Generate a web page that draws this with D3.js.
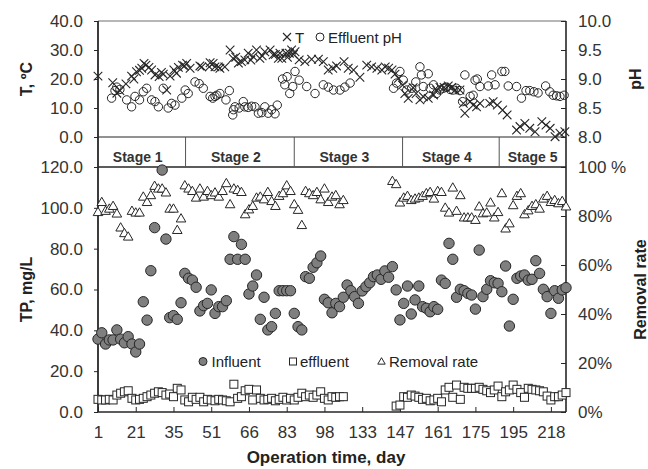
<!DOCTYPE html>
<html>
<head>
<meta charset="utf-8">
<script src="https://cdn.jsdelivr.net/npm/d3@7"></script>
<style>
  body { margin: 0; background: #fff; }
  svg { display: block; font-family: "Liberation Sans", Arial, sans-serif; }
</style>
</head>
<body>
<svg id="chart" width="648" height="469"></svg>
<script>
// ---- data (x = sample index on the category axis) ----
const dayLabels = ['1', '21', '35', '51', '66', '83', '98', '133', '147', '161', '175', '195', '218'];
const stageNames = ['Stage 1', 'Stage 2', 'Stage 3', 'Stage 4', 'Stage 5'];
const stageBreaks = [23.2, 52, 80.7, 106.3];

// TP influent, mg/L
const influent = [
  35.7, 38.8, 33.3, 35.3, 35.3, 40.2, 35.7, 33.9, 36.9, 33.3,
  29.4, 33.3, 54, 45, 69.2, 90.3, null, 118.5, 84.7, 46.2,
  47.2, 45.4, 53.5, 67.9, 65.5, 64.6, 61.1, 49.5, 52.1, 53.2,
  59.8, 48.3, 51.6, 51.6, 54.5, 74.8, 85.9, 74.8, 82.1, 74.8,
  57.8, 61.7, 67.1, 45.4, 56.2, 40.2, 41.8, 48.3, 59.4, 59.4,
  59.4, 59.4, 48.3, 41.8, 40.2, 66.3, 65.5, 70.9, 73.1, 76.4,
  55.2, 53.5, 48.6, 53.2, 51.6, 56.2, 62.2, 59.4, 56.5, 53.2,
  59.3, 61.4, 63.3, 66.3, 67.1, 65, 69.1, 66, 71.2, 59.8,
  45.1, 53.2, 61.7, 48, 54.9, 61.7, 51.6, 50.8, 49.1, 51.6,
  50.3, 64.6, 63, 82.6, 74.8, 56.2, 60.1, 59.4, 58.1, 57.3,
  50.4, 79.3, 56.5, 60.1, 64.3, 63.3, 63, 58.9, 71.5, 42.1,
  55.2, 65.5, 66.6, 67.1, 64.6, 65, 74.1, 67.9, 60.1, 56.5,
  48.3, 59.4, 55.7, 59.8, 60.9
];

// TP effluent, mg/L
const effluent = [
  6.2, 5.9, 5.9, 6.2, 5.9, 8.3, 9.2, 9.9, 10.4, 6.7,
  5.9, 6.2, 6.7, 7.5, 8.3, 9.2, 9.9, 9.5, 8.3, 8.8,
  7.5, 11.6, 10.8, 5.9, 5, 7.2, 6.2, 7.2, 5, 6.2,
  5.9, 5.5, 6.2, 5.9, 5.5, 5, 13.6, 6.7, 7.5, 10.4,
  11.1, 5.9, 10.8, 6.7, 5.9, 6.2, 6.7, 5.5, 6.2, 7.2,
  5.9, 6.7, 5.9, 7.2, 9.2, 7.5, 8.3, 7.2, 8.3, 9.9,
  6.7, 5.9, 7.5, 7.2, 7.5, 7.5,
  null, null, null, null, null, null, null, null, null, null, null, null, null,
  2.9, 3.4, 7.5, 7.2, 8.3, 7.8, 7.2, 6.2, 6.7, 5.5,
  5.9, 6.7, 5, 10.8, 12.1, 7.2, 13.2, 6.2, 12.1, 11.6,
  11.6, 11.6, 12.1, 11.1, 10.4, 9.5, 10.8, 12.7, 7.5, 9.9,
  10.8, 13.2, 11.1, 9.5, 7.2, 11.6, 11.1, 10.8, 10.4, 9.9,
  7.8, 5.9, 7.5, 7.5, 8.3, 9.5
];

// TP removal rate, %
const removal = [
  81.3, 85.4, 81.8, 82.7, 83.8, 80.7, 75, 72.7, 71.3, 81.8,
  81.1, 81.1, 87.6, 85.4, 88.2, 92, 90.9, 90.9, 89.3, 82.7,
  82.7, 74, 78.7, 92.2, 90.9, 89.9, 87.2, 90.9, 87.6, 89.9,
  88.2, 89.3, 87.6, 89.9, 93.1, 84.5, 90.9, 90.3, 89.5, 80.4,
  82.4, 83.8, 87.2, 87.6, 86.5, 89.5, 85.8, 83.8, 87.9, 89,
  92.2, 89.9, 84.5, 82.2, 76, 89.9, 89, 88.2, 89.5, 86.5,
  90.9, 85.4, 87.6, 88.2, 84.5, 86.2,
  null, null, null, null, null, null, null, null, null, null, null, null,
  94, 92.7, 85.2, 87.2, 87.9, 86.2, 86.8, 87.2,
  87.9, 89, 89.5, 86.8, 89.9, 89.5, 83.1, 81.1, 91.3, 81.8,
  88.2, 79.1, 79.1, 79.1, 78.1, 83.6, 80.8, 81.1, 85.2, 79.1,
  81.3, 89, 74.6, 76.7, 84.1, 87.9, 89, 80.4, 82, 83.8,
  84.5, 82.7, 86.8, 87.9, 85.4, 86.2, 84.9, 85.8, 83.6
];

// temperature, [position, degC]
const tempPoints = [
  [0, 21], [3.9, 18.7], [5, 15.1], [5.8, 16], [7.4, 18.3], [8.9, 21], [9.5, 20], [10.2, 22.5],
  [11, 23], [11.6, 23.7], [12.2, 25.4], [12.7, 24.8], [13.5, 24], [14.2, 23.1], [15.1, 21.4],
  [16.2, 20.8], [16.8, 22.3], [17.3, 21.7], [18.2, 16.2], [19.1, 21], [20.1, 23.1], [20.8, 22],
  [21.3, 24], [22.4, 24.8], [22.9, 24.5], [23.5, 25.4], [24.4, 23.7], [27, 24.5], [27.5, 24.2],
  [29.5, 24.2], [29.7, 25.6], [30.5, 25.4], [31, 24.2], [31.9, 24.2], [32.3, 23.7], [33.6, 24.2],
  [35, 30], [35.8, 27.1], [36.5, 27.5], [37.2, 25.5], [38, 26], [38.9, 26.6], [39.8, 28.9],
  [40.5, 26.5], [41.1, 27.7], [42, 30], [42.9, 27.1], [43.5, 28], [44.2, 29.4], [45.6, 30],
  [46.4, 28.3], [47, 28.5], [47.8, 27.1], [48.2, 28.9], [48.7, 27.1], [49.8, 28.9], [50.2, 27.5],
  [50.7, 28.9], [51.3, 30], [51.8, 28.5], [52.2, 29.4], [53.3, 26.6], [54.8, 26], [56.6, 26.8],
  [58.4, 26.8], [59.7, 26], [61, 23.1], [62.2, 23.7], [63.2, 24.5], [65.2, 26], [66.3, 23.7],
  [67.7, 23.1], [69.4, 20.6], [71.2, 24.8], [72.5, 24.2], [73.9, 23.7], [75.2, 23.1], [76.1, 24.2],
  [77, 23.7], [77.9, 23.1], [78.7, 21.7], [79.6, 20.2], [80.7, 17.9], [81.3, 15], [82.2, 13.3],
  [83.5, 17], [84.3, 15], [85.3, 12.8], [86.2, 13.9], [87.5, 13.3], [88.9, 14.5], [89.7, 16.2],
  [90.6, 17.1], [91.7, 17.1], [92.8, 17.6], [93.7, 17.1], [94.6, 16.2], [95.9, 16.2], [96.8, 11.6],
  [97.2, 8.2], [98.6, 12.2], [99.4, 11], [100.3, 10.4], [101.2, 11.6], [103.8, 11.6], [104.7, 12.2],
  [105.8, 11], [107.2, 9.3], [108.4, 7.6], [110.9, 2.4], [111.8, 3.6], [113.1, 4.7], [114.4, 3],
  [115.8, 1.8], [117.6, 5.3], [118.7, 4.1], [119.8, 3], [121.1, 0.1], [122.4, 1.3], [123.7, 1.8]
];

// effluent pH, [position, pH]
const phPoints = [
  [3.6, 8.67], [4.5, 8.8], [5, 8.86], [5.8, 8.82], [7.6, 8.64], [8.9, 8.52], [9.8, 8.7], [11, 8.64],
  [12, 8.78], [12.9, 8.84], [14.2, 8.64], [15.1, 8.61], [16, 8.52], [17.3, 8.84], [18.6, 8.5],
  [19.5, 8.58], [20.4, 8.55], [22.2, 8.67], [23.1, 8.81], [23.9, 8.75], [25.7, 8.95], [26.8, 8.92],
  [27.9, 8.84], [29.7, 8.7], [30.4, 8.67], [31, 8.7], [31.5, 8.72], [32.3, 8.75], [33.9, 8.64],
  [34.8, 8.8], [35.7, 8.38], [35.9, 8.47], [36.3, 8.52], [37.4, 8.5], [38.5, 8.61], [38.9, 8.52],
  [39.8, 8.51], [40.7, 8.53], [41.6, 8.52], [42.5, 8.41], [43.4, 8.42], [44.2, 8.52], [45.1, 8.41],
  [46, 8.47], [46.9, 8.4], [47.5, 8.55], [48.9, 9], [49.5, 8.9], [50.1, 9.04], [50.8, 8.75],
  [51.6, 8.87], [52.2, 9.13], [53.3, 8.98], [55.3, 8.87], [57.5, 8.75], [59.7, 8.9], [61, 8.86],
  [62.4, 8.81], [64.1, 8.81], [65.4, 8.86], [66.8, 8.93], [78.3, 8.84], [79.1, 8.93], [80, 9.13],
  [80.9, 8.98], [81.8, 8.81], [83.1, 8.84], [84.2, 8.95], [85.3, 9.21], [85.7, 9.07], [86.2, 8.87],
  [87.5, 9.09], [88, 8.84], [88.9, 8.9], [89.7, 8.75], [90.6, 8.81], [91.5, 8.84], [92.4, 8.86],
  [93.3, 8.82], [94.1, 8.81], [95, 8.84], [95.9, 8.8], [96.6, 8.61], [97.2, 9.07], [98.6, 8.7],
  [99.4, 8.72], [99.9, 8.98], [100.5, 9], [101.2, 8.87], [103.4, 8.88], [104.3, 9.07], [105.2, 8.9],
  [107, 9.13], [107.8, 9.13], [108.7, 8.88], [110.9, 8.87], [112.2, 8.67], [113.4, 8.8], [114.4, 8.8],
  [115.5, 8.78], [116.6, 8.76], [118.6, 8.88], [119.7, 8.78], [120.6, 8.72], [121.5, 8.71],
  [122.4, 8.7], [123.5, 8.72]
];

// ---- layout ----
const L = 98, R = 566;
const topY0 = 21, topY1 = 137, stageY1 = 167, botY1 = 412;
const ink = '#262626', textCol = '#333';

const svg = d3.select('#chart');

const x = d3.scaleLinear().domain([0, influent.length - 1]).range([L, R]);
const yT = d3.scaleLinear().domain([0, 40]).range([topY1, topY0]);
const yPH = d3.scaleLinear().domain([8, 10]).range([topY1, topY0]);
const yTP = d3.scaleLinear().domain([0, 120]).range([botY1, stageY1]);
const yRR = d3.scaleLinear().domain([0, 100]).range([botY1, stageY1]);

function styleAxis(g) {
  g.select('.domain').remove();
  g.selectAll('.tick line').attr('stroke', ink).attr('stroke-width', 1);
  g.selectAll('.tick text').attr('fill', textCol).style('font-size', '17px')
    .style('font-family', '"Liberation Sans", Arial, sans-serif');
}

// frames
const frame = svg.append('g').attr('stroke', ink).attr('fill', 'none');
frame.append('line').attr('x1', L).attr('x2', R).attr('y1', topY0).attr('y2', topY0)
  .attr('stroke', '#6e6e6e').attr('stroke-width', 1.2);
frame.append('line').attr('x1', L).attr('x2', R).attr('y1', topY1).attr('y2', topY1).attr('stroke-width', 1.2);
frame.append('line').attr('x1', L).attr('x2', R).attr('y1', stageY1).attr('y2', stageY1).attr('stroke-width', 1.6);
frame.append('line').attr('x1', L).attr('x2', R).attr('y1', botY1).attr('y2', botY1).attr('stroke-width', 1.6);
frame.append('line').attr('x1', L).attr('x2', L).attr('y1', topY0).attr('y2', botY1).attr('stroke-width', 1.8);
frame.append('line').attr('x1', R).attr('x2', R).attr('y1', topY0).attr('y2', botY1).attr('stroke-width', 1.6);

// stage row
frame.selectAll('line.stage').data(stageBreaks).join('line').attr('class', 'stage')
  .attr('x1', d => x(d)).attr('x2', d => x(d)).attr('y1', topY1).attr('y2', stageY1)
  .attr('stroke', '#555').attr('stroke-width', 1);
const edges = [0].concat(stageBreaks, [influent.length - 1]);
svg.append('g').selectAll('text').data(stageNames).join('text')
  .attr('x', (d, i) => (x(edges[i]) + x(edges[i + 1])) / 2 - (i < 4 ? 4 : 0))
  .attr('y', 161.5).attr('text-anchor', 'middle')
  .attr('fill', textCol).style('font-size', '14px').style('font-weight', 'bold')
  .text(d => d);

// axes
svg.append('g').attr('transform', `translate(${L},0)`)
  .call(d3.axisLeft(yT).tickValues([0, 10, 20, 30, 40]).tickFormat(d3.format('.1f'))
    .tickSizeInner(4).tickSizeOuter(0).tickPadding(11)).call(styleAxis);
svg.append('g').attr('transform', `translate(${R},0)`)
  .call(d3.axisRight(yPH).tickValues([8, 8.5, 9, 9.5, 10]).tickFormat(d3.format('.1f'))
    .tickSizeInner(-5).tickSizeOuter(0).tickPadding(12)).call(styleAxis);
svg.append('g').attr('transform', `translate(${L},0)`)
  .call(d3.axisLeft(yTP).tickValues([0, 20, 40, 60, 80, 100, 120]).tickFormat(d3.format('.1f'))
    .tickSizeInner(4).tickSizeOuter(0).tickPadding(11)).call(styleAxis);
svg.append('g').attr('transform', `translate(${R},0)`)
  .call(d3.axisRight(yRR).tickValues([0, 20, 40, 60, 80, 100])
    .tickFormat(d => d === 100 ? '100 %' : d + '%')
    .tickSizeInner(-5).tickSizeOuter(0).tickPadding(12)).call(styleAxis);
svg.append('g').attr('transform', `translate(0,${botY1})`)
  .call(d3.axisBottom(x).tickValues(d3.range(0, dayLabels.length * 10, 10))
    .tickFormat((d, i) => dayLabels[i]).tickSizeInner(-5).tickSizeOuter(0).tickPadding(14))
  .call(styleAxis);

// axis titles
const titleStyle = sel => sel.attr('fill', '#222').style('font-size', '16px').style('font-weight', 'bold')
  .attr('text-anchor', 'middle');
svg.append('text').attr('transform', `translate(32,${(topY0 + topY1) / 2}) rotate(-90)`)
  .call(titleStyle).text('T, ºC');
svg.append('text').attr('transform', `translate(32,${(stageY1 + botY1) / 2}) rotate(-90)`)
  .call(titleStyle).text('TP, mg/L');
svg.append('text').attr('transform', `translate(641,${(topY0 + topY1) / 2}) rotate(-90)`)
  .call(titleStyle).text('pH');
svg.append('text').attr('transform', `translate(646,${(stageY1 + botY1) / 2}) rotate(-90)`)
  .call(titleStyle).text('Removal rate');
svg.append('text').attr('x', 326).attr('y', 463).call(titleStyle).style('font-size', '17px')
  .text('Operation time, day');

// marker shapes
const crossPath = 'M-4.3,-4.3L4.3,4.3M-4.3,4.3L4.3,-4.3';
const tri = d3.symbol().type(d3.symbolTriangle).size(40)();
const triSmall = d3.symbol().type(d3.symbolTriangle).size(24)();

// top panel: temperature and pH
svg.append('g').selectAll('path').data(tempPoints).join('path')
  .attr('transform', d => `translate(${x(d[0])},${yT(d[1])})`)
  .attr('d', crossPath).attr('stroke', ink).attr('stroke-width', 1.1).attr('fill', 'none');
svg.append('g').selectAll('circle').data(phPoints).join('circle')
  .attr('cx', d => x(d[0])).attr('cy', d => yPH(d[1])).attr('r', 4.2)
  .attr('fill', 'none').attr('stroke', ink).attr('stroke-width', 1);

// bottom panel
const idx = d3.range(influent.length);
svg.append('g').selectAll('circle').data(idx.filter(i => influent[i] != null)).join('circle')
  .attr('cx', i => x(i)).attr('cy', i => yTP(influent[i])).attr('r', 5.2)
  .attr('fill', '#7f7f7f').attr('stroke', ink).attr('stroke-width', 1);
svg.append('g').selectAll('rect').data(idx.filter(i => effluent[i] != null)).join('rect')
  .attr('x', i => x(i) - 4).attr('y', i => yTP(effluent[i]) - 4).attr('width', 8).attr('height', 8)
  .attr('fill', '#fff').attr('stroke', ink).attr('stroke-width', 1);
svg.append('g').selectAll('path').data(idx.filter(i => removal[i] != null)).join('path')
  .attr('transform', i => `translate(${x(i)},${yRR(removal[i])})`)
  .attr('d', tri).attr('fill', '#fff').attr('stroke', ink).attr('stroke-width', 1);

// legends
const legText = sel => sel.attr('fill', '#222').style('font-size', '15px');
const topLeg = svg.append('g');
topLeg.append('path').attr('transform', 'translate(287,37)').attr('d', 'M-4,-4L4,4M-4,4L4,-4')
  .attr('stroke', ink).attr('stroke-width', 1.1);
topLeg.append('text').attr('x', 295).attr('y', 42.5).call(legText).text('T');
topLeg.append('circle').attr('cx', 320).attr('cy', 37).attr('r', 4).attr('fill', 'none').attr('stroke', ink);
topLeg.append('text').attr('x', 328).attr('y', 42.5).call(legText).text('Effluent pH');

const botLeg = svg.append('g');
botLeg.append('circle').attr('cx', 203).attr('cy', 361.5).attr('r', 4)
  .attr('fill', '#7f7f7f').attr('stroke', ink);
botLeg.append('text').attr('x', 211.5).attr('y', 367).call(legText).text('Influent');
botLeg.append('rect').attr('x', 289.5).attr('y', 358).attr('width', 7).attr('height', 7)
  .attr('fill', '#fff').attr('stroke', ink);
botLeg.append('text').attr('x', 300).attr('y', 367).call(legText).text('effluent');
botLeg.append('path').attr('transform', 'translate(381.5,362)').attr('d', triSmall)
  .attr('fill', '#fff').attr('stroke', ink);
botLeg.append('text').attr('x', 389).attr('y', 367).call(legText).text('Removal rate');
</script>
</body>
</html>
